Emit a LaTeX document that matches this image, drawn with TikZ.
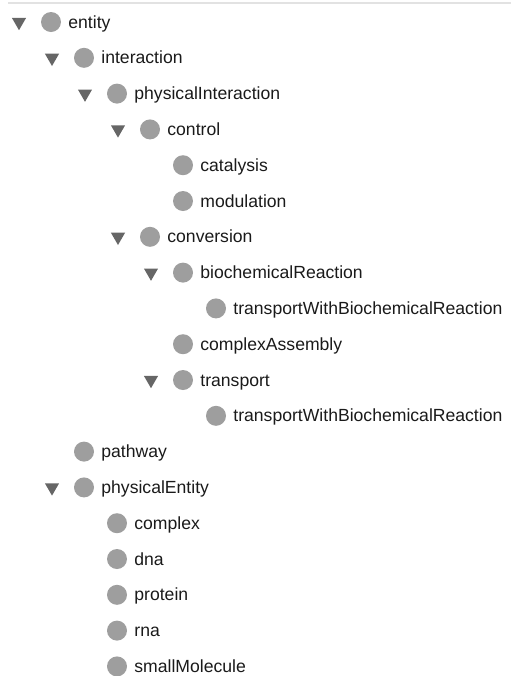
\documentclass[tikz,border=0pt]{standalone}
\usepackage{fontspec}
\setmainfont{Liberation Sans}
\usetikzlibrary{shapes.geometric}
\definecolor{dotgray}{HTML}{9E9E9E}
\definecolor{trigray}{HTML}{666666}
\definecolor{txtgray}{HTML}{1A1A1A}
\definecolor{rulegray}{HTML}{E2E2E2}

\begin{document}
\begin{tikzpicture}[x=0.5pt, y=-0.5pt,
	dot/.style={circle, fill=dotgray, inner sep=0pt, minimum size=10pt},
	tri/.style={regular polygon, regular polygon sides=3, shape border rotate=180, fill=trigray, inner sep=0pt, minimum size=8.2pt},
	lbl/.style={anchor=base west, inner sep=0pt, text=txtgray, font=\fontsize{8.8}{10}\selectfont}]
	\useasboundingbox (0,0) rectangle (511,676);
	\draw[rulegray, line width=0.6pt] (8,3) -- (511,3);
	
	\node[tri] (t0) at (19,22) {};
	\node[dot] (d0) at (51,22) {};
	\node[lbl] (entity) at (68,28) {entity};
	
	\node[tri] (t1) at (52,57.8) {};
	\node[dot] (d1) at (84,57.8) {};
	\node[lbl] (interaction) at (101,63.8) {interaction};
	
	\node[tri] (t2) at (85,93.6) {};
	\node[dot] (d2) at (117,93.6) {};
	\node[lbl] (physint) at (134,99.6) {physicalInteraction};
	
	\node[tri] (t3) at (118,129.4) {};
	\node[dot] (d3) at (150,129.4) {};
	\node[lbl] (control) at (167,135.4) {control};
	
	\node[dot] (d4) at (183,165.2) {};
	\node[lbl] (catalysis) at (200,171.2) {catalysis};
	
	\node[dot] (d5) at (183,201) {};
	\node[lbl] (modulation) at (200,207) {modulation};
	
	\node[tri] (t6) at (118,236.8) {};
	\node[dot] (d6) at (150,236.8) {};
	\node[lbl] (conversion) at (167,242.8) {conversion};
	
	\node[tri] (t7) at (151,272.6) {};
	\node[dot] (d7) at (183,272.6) {};
	\node[lbl] (biochem) at (200,278.6) {biochemicalReaction};
	
	\node[dot] (d8) at (216,308.4) {};
	\node[lbl] (twbr1) at (233,314.4) {transportWithBiochemicalReaction};
	
	\node[dot] (d9) at (183,344.2) {};
	\node[lbl] (assembly) at (200,350.2) {complexAssembly};
	
	\node[tri] (t10) at (151,380) {};
	\node[dot] (d10) at (183,380) {};
	\node[lbl] (transport) at (200,386) {transport};
	
	\node[dot] (d11) at (216,415.8) {};
	\node[lbl] (twbr2) at (233,421.8) {transportWithBiochemicalReaction};
	
	\node[dot] (d12) at (84,451.6) {};
	\node[lbl] (pathway) at (101,457.6) {pathway};
	
	\node[tri] (t13) at (52,487.4) {};
	\node[dot] (d13) at (84,487.4) {};
	\node[lbl] (physent) at (101,493.4) {physicalEntity};
	
	\node[dot] (d14) at (117,523.2) {};
	\node[lbl] (complex) at (134,529.2) {complex};
	
	\node[dot] (d15) at (117,559) {};
	\node[lbl] (dna) at (134,565) {dna};
	
	\node[dot] (d16) at (117,594.8) {};
	\node[lbl] (protein) at (134,600.8) {protein};
	
	\node[dot] (d17) at (117,630.6) {};
	\node[lbl] (rna) at (134,636.6) {rna};
	
	\node[dot] (d18) at (117,666.4) {};
	\node[lbl] (smallmol) at (134,672.4) {smallMolecule};
\end{tikzpicture}
\end{document}
